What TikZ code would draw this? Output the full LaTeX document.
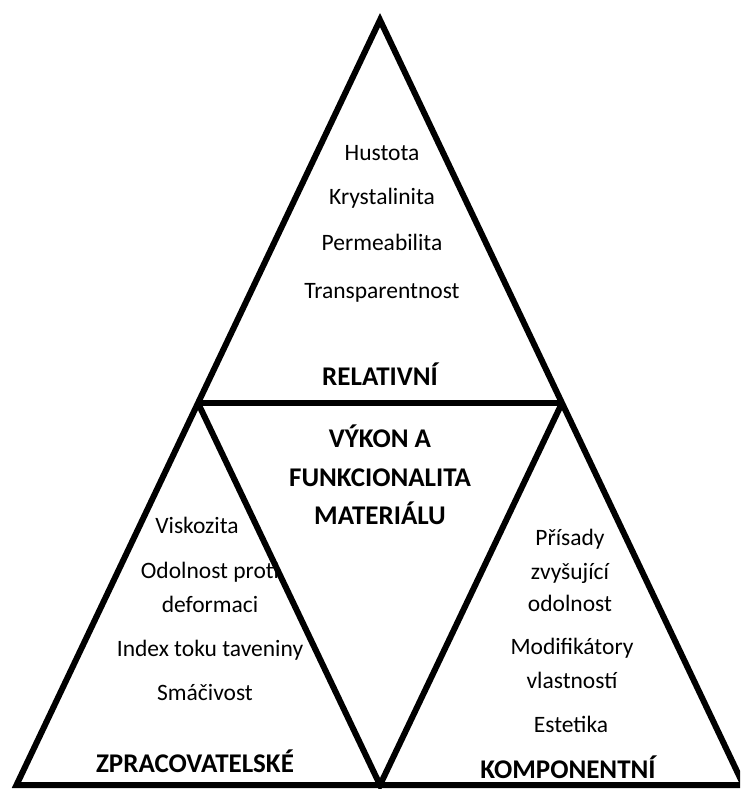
\documentclass[tikz,border=0pt]{standalone}
\usepackage{fontspec}
\setmainfont{Carlito}
\begin{document}
\begin{tikzpicture}[x=1pt,y=-1pt,
  edge/.style={line width=6pt,line join=miter,black},
  item/.style={anchor=base,inner sep=0pt,font=\fontsize{23.5}{28}\selectfont},
  head/.style={anchor=base,inner sep=0pt,font=\fontsize{27}{31}\selectfont\bfseries}]
\useasboundingbox (0,0) rectangle (740,789);
\coordinate (apex) at (380,20);
\coordinate (bl) at (16.5,785);
\coordinate (br) at (743.5,785);
\coordinate (ml) at (198,403);
\coordinate (mr) at (562,403);
\coordinate (bm) at (380,785);
\begin{scope}
\clip (0,0) rectangle (740,789);
\draw[edge] (apex) -- (bl) -- (br) -- cycle;
\draw[edge] (ml) -- (mr);
\draw[edge] (ml) -- (bm) -- (mr);
\end{scope}
% top
\node[item] (t1) at (382,160) {Hustota};
\node[item] (t2) at (382,204) {Krystalinita};
\node[item] (t3) at (382,250) {Permeabilita};
\node[item] (t4) at (382,298) {Transparentnost};
\node[head] (th) at (380,385) {RELATIVNÍ};
% center
\node[head] (c1) at (380,447) {VÝKON A};
\node[head] (c2) at (380,486) {FUNKCIONALITA};
\node[head] (c3) at (380,524) {MATERIÁLU};
% left
\node[item] (l1) at (197,533) {Viskozita};
\node[item] (l2) at (210,578) {Odolnost proti};
\node[item] (l3) at (210,612) {deformaci};
\node[item] (l4) at (210,656) {Index toku taveniny};
\node[item] (l5) at (205,700) {Smáčivost};
\node[head] (lh) at (195,772) {ZPRACOVATELSKÉ};
% right
\node[item] (r1) at (570,545) {Přísady};
\node[item] (r2) at (570,579) {zvyšující};
\node[item] (r3) at (570,611) {odolnost};
\node[item] (r4) at (572,654) {Modifikátory};
\node[item] (r5) at (572,688) {vlastností};
\node[item] (r6) at (571,732) {Estetika};
\node[head] (rh) at (568,778) {KOMPONENTNÍ};
\end{tikzpicture}
\end{document}
